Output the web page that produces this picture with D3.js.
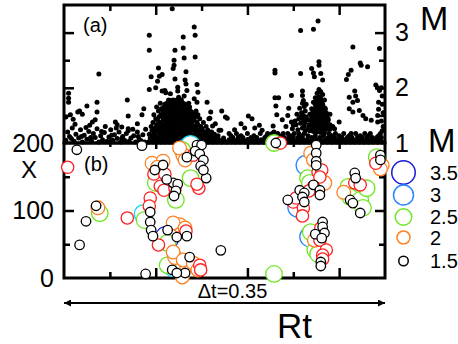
<!DOCTYPE html>
<html><head><meta charset="utf-8">
<script src="https://cdn.jsdelivr.net/npm/d3@7"></script>
<style>body{margin:0;background:#fff}svg text{font-family:Arial,"Liberation Sans",sans-serif;fill:#000}</style>
</head><body><svg id="c" width="458" height="344"></svg>
<script>
// ---------- data ----------
const timeDomain = [0, 3.5];
const magDomain = [1, 3.5];
const xDomain = [0, 200];
const timeMajorTicks = [1, 2, 3];
const timeMinorTicks = [0.5, 1.5, 2.5];
const magMajorTicks = [2, 3];
const magMinorTicks = [1.5, 2.5];
const magTickLabels = [1, 2, 3];
const xMajorTicks = [100];
const xMinorTicks = [50, 150];
const xTickLabels = [0, 100, 200];
const legendMags = [3.5, 3, 2.5, 2, 1.5];
const legendLabels = ["3.5", "3", "2.5", "2", "1.5"];
const magBins = [1.75, 2, 2.5, 2.75, 3, 3.5];
const magColors = ["#000000", "#ff2020", "#ff8022", "#6ee61e", "#10d8f0", "#2a86ff", "#1818dc"];

// panel (a): scattered events [time, M]
const aEvents = [
 [0.38,2.25],[0.05,1.90],[0.05,1.81],[0.05,1.74],[0.36,1.74],[0.36,1.56],[0.25,1.67],[0.69,1.78],[0.70,1.49],[0.87,1.62],[0.15,1.56],[0.07,1.51],[0.10,1.43],[0.20,1.52],[0.02,1.47],[0.31,1.38],[0.34,1.42],[0.56,1.38],[0.58,1.33],[0.63,1.29],[0.70,1.26],[0.80,1.35],[0.85,1.51],[0.17,1.58],
 [0.02,1.05],[0.04,1.2],[0.06,1.12],[0.09,1.27],[0.11,1.03],[0.13,1.16],[0.16,1.09],[0.18,1.24],[0.2,1.02],[0.22,1.14],[0.25,1.07],[0.27,1.21],[0.3,1.04],[0.32,1.17],[0.34,1.1],[0.36,1.26],[0.38,1.02],[0.4,1.13],[0.42,1.06],[0.44,1.19],[0.47,1.03],[0.49,1.11],[0.51,1.24],[0.53,1.05],[0.55,1.15],[0.58,1.08],[0.6,1.2],[0.62,1.02],[0.64,1.12],[0.66,1.05],[0.68,1.17],[0.71,1.03],[0.73,1.09],[0.76,1.13],[0.78,1.02],[0.8,1.2],[0.82,1.07],[0.84,1.04],[0.86,1.15],[0.88,1.02],[0.28,1.32],[0.45,1.3],[0.12,1.34],[0.57,1.27],[0.75,1.25],[0.24,1.28],
 [0.08,1.08],[0.19,1.12],[0.29,1.1],[0.41,1.21],[0.52,1.14],[0.63,1.08],[0.7,1.22],[0.81,1.12],[0.89,1.25],
 [1.18,3.43],[0.93,2.95],[0.93,2.68],[1.42,3.10],[1.43,2.95],[1.30,2.92],[1.30,2.72],[1.21,2.68],[1.43,2.56],[1.31,2.54],[1.20,2.50],[1.20,2.41],[1.03,2.36],[1.19,2.35],[1.33,2.29],[0.95,2.20],[1.04,2.21],[1.07,2.24],[1.21,2.16],[1.32,2.14],[1.33,2.07],[1.02,2.12],[1.00,2.00],[0.93,1.97],[1.10,1.95],[1.11,1.91],[1.07,1.94],[1.24,2.01],[1.24,1.94],[1.34,1.95],[1.45,2.06],[1.46,1.92],[1.16,1.89],[1.16,1.77],[1.25,1.83],[1.31,1.85],[1.42,1.80],[1.45,1.74],[1.56,1.74],[1.72,1.58],[1.59,1.45],[1.76,1.47],[1.62,1.31],[1.60,1.56],[1.58,1.44],[1.65,1.35],[1.71,1.23],
 [2.58,3.04],[2.72,3.06],[2.30,2.32],[2.30,2.27],[2.58,2.26],[2.30,1.82],[2.34,1.82],[2.48,1.86],[2.60,1.94],[2.60,1.86],[2.61,1.77],[2.31,1.67],[2.45,1.63],[1.78,1.45],[2.01,1.49],[2.05,1.44],[2.32,1.51],[2.44,1.50],[2.13,1.32],[2.16,1.23],[1.86,1.24],[1.97,1.27],[2.38,1.42],[2.42,1.30],[2.48,1.38],[2.49,1.26],[2.28,1.31],[2.29,1.20],[2.22,1.17],[2.08,1.27],[1.93,1.35],
 [2.55,1.24],[2.6,1.27],[2.63,1.22],[2.53,1.33],[2.58,1.36],[2.62,1.31],[2.56,1.44],[2.61,1.42],[2.64,1.47],[2.54,1.52],[2.59,1.55],[2.63,1.58],[2.57,1.63],[2.62,1.66],[2.6,1.72],[2.64,1.70],[2.52,1.4],[2.5,1.32],[2.61,1.5],[2.58,1.47],[2.63,1.38],
 [2.77,3.21],[3.15,2.74],[3.44,2.71],[3.23,2.45],[3.24,2.41],[3.31,2.38],[3.13,2.32],[3.10,2.24],[3.08,2.15],[2.78,2.47],[2.78,2.41],[2.70,2.35],[2.72,2.27],[2.73,2.20],[2.80,2.26],[2.82,2.14],[3.40,2.05],[3.42,2.00],[3.44,1.95],[3.46,2.00],[3.17,1.94],[3.18,1.85],[3.11,1.83],[3.15,1.74],[3.20,1.77],[3.43,1.74],[3.43,1.61],[3.11,1.62],[3.15,1.56],[3.22,1.59],[3.26,1.50],[3.29,1.44],[3.35,1.41],[3.00,1.38],[3.42,1.50],[3.42,1.38],[2.95,1.26],[3.47,1.85],[3.47,1.70],[3.48,1.55],[3.46,1.40],[3.48,1.30],[3.47,1.22],
 [2.78,1.97],[2.8,1.93],[2.76,1.9],[2.82,1.88],[2.78,1.84],[2.74,1.82],[2.8,1.8],[2.84,1.78],[2.77,1.76],[2.72,1.74],[2.81,1.72],[2.75,1.68],[2.79,1.66],[2.84,1.64],[2.7,1.62],[2.73,1.6],[2.77,1.58],[2.81,1.57],[2.86,1.55],[2.68,1.52],[2.72,1.5],[2.76,1.49],[2.8,1.48],[2.84,1.46],[2.88,1.44],[2.66,1.42],[2.7,1.4],[2.74,1.39],[2.78,1.38],[2.82,1.37],[2.86,1.35],[2.9,1.33],[2.67,1.32],[2.71,1.3],[2.75,1.29],[2.79,1.28],[2.83,1.27],[2.87,1.26],[2.68,1.22],[2.72,1.21],[2.76,1.2],[2.8,1.19],[2.84,1.18],[2.89,1.17],[2.93,1.3],[2.9,1.52]
];
// panel (a): dense swarm rows [M, [times]]
const aDenseRows = [
 [1.02,[0.92,0.97,1.01,1.06,1.1,1.15,1.19,1.24,1.28,1.33,1.37,1.42,1.47,1.52,1.57,1.62,1.67,1.72,1.77,1.82,1.87,1.92,1.97,2.02,2.07,2.12,2.17,2.22,2.27,2.32,2.37,2.42,2.47,2.52,2.57,2.62,2.67,2.72,2.77,2.82,2.87,2.92,2.97,3.02,3.07,3.12,3.17,3.22,3.27,3.32,3.37,3.42,3.47]],
 [1.06,[0.95,0.99,1.04,1.08,1.13,1.17,1.21,1.26,1.3,1.35,1.39,1.44,1.49,1.54,1.59,1.64,1.69,1.74,1.8,1.85,1.9,1.95,2.0,2.05,2.1,2.15,2.2,2.25,2.3,2.35,2.4,2.45,2.5,2.55,2.6,2.65,2.7,2.75,2.8,2.85,2.9,2.95,3.0,3.05,3.1,3.15,3.2,3.25,3.3,3.35,3.4,3.45]],
 [1.09,[0.94,0.99,1.03,1.08,1.13,1.17,1.22,1.26,1.31,1.35,1.4,1.45,1.5,1.55,1.6,1.66,1.74]],
 [1.10,[1.84,1.9,1.95,2.04,2.1,2.19,2.25,2.3,2.35,2.4,2.45,2.5,2.55,2.6,2.7,2.79,2.88,2.95,3.03,3.09,3.14,3.2,3.25,3.3,3.36,3.41,3.46]],
 [1.13,[0.96,1.0,1.06,1.11,1.16,1.2,1.25,1.29,1.34,1.39,1.44,1.5,1.56,1.62,1.68,1.82,1.93,2.07,2.21,2.37,2.47,2.58,2.66,2.74,2.83,2.92,3.0,3.11,3.23,3.32,3.43]],
 [1.16,[0.93,0.98,1.05,1.1,1.14,1.19,1.23,1.28,1.33,1.38,1.43,1.48,1.53,1.58,1.64]],
 [1.17,[1.8,1.88,2.0,2.14,2.27,2.33,2.39,2.44,2.51,2.56,2.62,2.96,3.05,3.13,3.18,3.28,3.34,3.45]],
 [1.20,[0.98,1.03,1.09,1.15,1.19,1.23,1.27,1.32,1.37,1.43,1.48,1.54,1.61]],
 [1.23,[0.96,1.01,1.07,1.12,1.17,1.21,1.25,1.3,1.35,1.4,1.46,1.51,1.57,1.69]],
 [1.25,[2.66,2.7,2.74,2.78,2.82,2.86,2.9]],
 [1.27,[0.99,1.05,1.11,1.16,1.2,1.24,1.29,1.34,1.39,1.44,1.5]],
 [1.30,[0.95,1.03,1.09,1.14,1.18,1.22,1.27,1.32,1.37,1.42,1.49,1.55]],
 [1.33,[1.01,1.07,1.12,1.16,1.21,1.25,1.3,1.35,1.4,1.46,2.68,2.72,2.76,2.8,2.84,2.88]],
 [1.37,[0.97,1.05,1.11,1.16,1.2,1.24,1.29,1.34,1.39,1.45,1.52]],
 [1.41,[1.02,1.09,1.14,1.19,1.23,1.27,1.32,1.37,1.42,2.68,2.72,2.76,2.8,2.84,2.88]],
 [1.44,[1.0,1.08,1.13,1.18,1.22,1.27,1.31,1.36,1.41,1.48]],
 [1.48,[1.04,1.1,1.15,1.2,1.24,1.29,1.33,1.38,1.44,2.7,2.74,2.78,2.82,2.86]],
 [1.51,[0.98,1.06,1.12,1.17,1.21,1.25,1.3,1.35,1.4,1.46]],
 [1.55,[1.08,1.13,1.18,1.22,1.26,1.31,1.36,1.42,2.71,2.75,2.79,2.83]],
 [1.58,[1.03,1.1,1.15,1.2,1.23,1.28,1.33,1.38,1.44]],
 [1.62,[1.06,1.12,1.17,1.21,1.25,1.3,1.35,2.73,2.77,2.81,2.85]],
 [1.65,[1.01,1.09,1.14,1.19,1.22,1.27,1.32,1.37]],
 [1.70,[1.1,1.16,1.2,1.24,1.29,1.33,2.74,2.78,2.82]],
 [1.72,[1.05,1.12,1.18,1.21,1.26,1.3,1.36]],
 [1.78,[1.14,1.19,1.23,1.28,2.76,2.8]]
];
// panel (b): events [time, X, M]
const bEvents = [
 [0.14,190,1.5],[0.04,164,1.9],[0.24,84,1.5],[0.17,49,1.5],[0.35,107,1.5],[0.37,104,2.1],[0.39,96,2.5],[0.69,89,1.9],[0.85,196,1.5],[0.89,6,1.5],[1.71,41,1.5],[2.29,6,2.5],
 [0.94,118.5,1.9],[0.93,106.7,1.9],[0.87,94.8,2.85],[0.88,86,2.55],[0.94,97.8,1.5],[0.94,83,1.5],[0.95,71,1.5],[0.97,62,1.5],
 [0.96,170,2.1],[1.08,173,2.1],[0.99,160,1.5],[1.08,167.4,1.5],[0.98,154,1.9],[1.10,154,1.9],[1.0,141,2.5],[1.05,136,1.9],[1.09,130,1.9],[1.19,141,1.5],[1.21,133,1.9],[1.24,139,1.5],[1.22,129,1.5],[1.22,115.6,2.5],[1.2,121.5,1.5],[1.02,164,2.1],[1.12,146,1.5],
 [1.26,192.6,2.1],[1.29,189.6,2.5],[1.30,182,2.2],[1.38,197,2.85],[1.35,192.6,3.0],[1.45,197,1.5],[1.50,197,1.5],[1.41,182,1.9],[1.43,188,1.5],[1.48,183.7,1.5],[1.52,174.8,1.5],[1.49,166,1.5],[1.32,174.8,2.1],[1.34,179,1.5],[1.38,148,2.5],[1.47,133,1.9],[1.45,139,1.9],[1.55,148,1.5],[1.52,160,1.5],
 [1.03,49,1.9],[1.12,59,3.5],[1.13,71,1.5],[1.13,52,2.5],[1.19,81.5,2.1],[1.26,78.5,2.2],[1.32,74,2.1],[1.33,69.6,1.9],[1.23,60.7,1.5],[1.34,62,1.5],[1.19,38.5,2.1],[1.21,31,2.2],[1.37,31,1.5],[1.30,26.7,2.1],[1.34,19,2.2],[1.41,22,2.1],[1.48,19,1.9],[1.49,12,1.9],[1.13,19,2.5],[1.19,16,2.85],[1.18,12,1.5],[1.32,7.4,1.5],[1.23,7.4,1.5],[1.29,1.5,2.1],[1.46,12,2.1],
 [2.29,200,2.5],[2.31,200,1.5],[2.36,200,1.9],
 [2.75,197,1.5],[2.69,185,2.1],[2.72,175,2.1],[2.75,185,1.5],[2.75,173,1.5],[2.64,167,3.0],[2.75,167,1.5],[2.77,157,1.9],[2.81,160,1.9],[2.79,149.6,1.9],[2.66,148,2.5],[2.68,141,2.5],[2.84,141,2.2],[2.72,135,1.9],[2.67,129,1.9],[2.72,138,1.5],[2.79,130,1.5],[2.79,123,1.5],
 [2.57,130,1.5],[2.62,126,1.5],[2.60,120,1.5],[2.44,115.6,1.5],[2.50,112.6,1.9],[2.53,118.5,1.9],[2.55,105,3.0],[2.61,103.7,1.9],[2.60,92,1.9],[2.62,112.6,1.5],
 [2.82,83,1.5],[2.82,75.6,1.5],[2.84,66.7,1.5],[2.80,74,1.9],[2.68,61,3.0],[2.69,68,2.5],[2.73,56,2.1],[2.74,65,1.5],[2.79,56,1.9],[2.81,59,1.5],[2.74,41.5,2.5],[2.77,35.5,2.5],[2.86,41.5,1.9],[2.82,34,1.9],[2.82,28,1.9],[2.80,23.7,1.5],[2.80,17.8,1.5],
 [3.17,155.6,1.5],[3.18,148,1.5],[3.17,141,1.9],[3.23,138,1.9],[3.05,127,2.1],[3.10,135,2.5],[3.12,120,2.5],[3.12,115.6,1.5],[3.15,111,1.5],[3.23,115.6,2.5],[3.26,104,2.5],[3.30,133,2.5],[3.23,96.3,1.5],
 [3.41,179,2.5],[3.45,182,1.5],[3.45,175,1.5],[3.40,170,1.9],[3.47,167,2.1],[3.45,161.5,2.1]
];

// ---------- drawing ----------
const svg = d3.select("#c");
const L = 64, R = 385, TA = 5, MID = 143, BB = 278;
const x = d3.scaleLinear().domain(timeDomain).range([L, R]);
const yA = d3.scaleLinear().domain(magDomain).range([MID, TA]);
const yB = d3.scaleLinear().domain(xDomain).range([BB, MID]);
const rad = d3.scaleLinear().domain([1.5, 3.5]).range([4.75, 11.75]);
const col = d3.scaleThreshold().domain(magBins).range(magColors);

function ticks(axisFn, scale, vals, len, tx, ty) {
  const g = svg.append("g").attr("transform", `translate(${tx},${ty})`)
    .call(axisFn(scale).tickValues(vals).tickSize(len).tickFormat(""));
  g.select(".domain").remove();
  g.selectAll("line").attr("stroke", "#000").attr("stroke-width", 2.5);
}
// panel (a) ticks
ticks(d3.axisRight, yA, magMajorTicks, 10, L, 0);
ticks(d3.axisRight, yA, magMinorTicks, 6, L, 0);
ticks(d3.axisLeft, yA, magMajorTicks, 10, R, 0);
ticks(d3.axisLeft, yA, magMinorTicks, 6, R, 0);
ticks(d3.axisBottom, x, timeMajorTicks, 10, 0, TA);
ticks(d3.axisBottom, x, timeMinorTicks, 6, 0, TA);
ticks(d3.axisTop, x, timeMajorTicks, 6, 0, MID);
ticks(d3.axisTop, x, timeMinorTicks, 4, 0, MID);
// panel (b) ticks
ticks(d3.axisRight, yB, xMajorTicks, 10, L, 0);
ticks(d3.axisRight, yB, xMinorTicks, 6, L, 0);
ticks(d3.axisLeft, yB, xMajorTicks, 10, R, 0);
ticks(d3.axisLeft, yB, xMinorTicks, 6, R, 0);
ticks(d3.axisBottom, x, timeMajorTicks, 6, 0, MID);
ticks(d3.axisBottom, x, timeMinorTicks, 4, 0, MID);
ticks(d3.axisTop, x, timeMajorTicks, 10, 0, BB);
ticks(d3.axisTop, x, timeMinorTicks, 6, 0, BB);

// panel (a) dots
const aAll = aEvents.concat(aDenseRows.flatMap(([m, ts]) => ts.map(t => [t, m])));
svg.append("g").selectAll("circle").data(aAll).join("circle")
  .attr("cx", d => x(d[0])).attr("cy", d => yA(d[1])).attr("r", 2.5).attr("fill", "#000");

// frames
svg.append("rect").attr("x", L).attr("y", TA).attr("width", R - L).attr("height", MID - TA)
  .attr("fill", "none").attr("stroke", "#000").attr("stroke-width", 3);
svg.append("rect").attr("x", L).attr("y", MID).attr("width", R - L).attr("height", BB - MID)
  .attr("fill", "none").attr("stroke", "#000").attr("stroke-width", 3);

// panel (b) circles
const bSorted = d3.sort(bEvents, (a, b) => b[2] - a[2]);
svg.append("g").selectAll("circle").data(bSorted).join("circle")
  .attr("cx", d => x(d[0])).attr("cy", d => yB(d[1])).attr("r", d => rad(d[2]))
  .attr("fill", "#fff").attr("stroke", d => col(d[2])).attr("stroke-width", 1.3);

// tick labels
function labels(axisFn, scale, vals, pad, tx, size) {
  const g = svg.append("g").attr("transform", `translate(${tx},0)`)
    .call(axisFn(scale).tickValues(vals).tickSize(0).tickPadding(pad).tickFormat(d3.format("d")));
  g.select(".domain").remove();
  g.selectAll("text").attr("font-size", size).attr("font-family", "Arial, Liberation Sans, sans-serif").attr("fill", "#000");
}
labels(d3.axisRight, yA, magTickLabels, 10, R, 25);
labels(d3.axisLeft, yB, xTickLabels, 10, L, 25);

// titles
svg.append("text").attr("x", 420).attr("y", 30).attr("font-size", 34).text("M");
svg.append("text").attr("x", 428).attr("y", 152).attr("font-size", 33).text("M");
svg.append("text").attr("x", 21).attr("y", 178).attr("font-size", 24).text("X");
svg.append("text").attr("x", 83).attr("y", 32).attr("font-size", 20).text("(a)");
svg.append("text").attr("x", 84).attr("y", 171).attr("font-size", 20).text("(b)");

// legend
const lg = svg.append("g");
const legendYs = [172.5, 195, 217, 237.5, 261];
legendMags.forEach((m, i) => {
  const yy = legendYs[i];
  lg.append("circle").attr("cx", 403.5).attr("cy", yy).attr("r", rad(m))
    .attr("fill", "#fff").attr("stroke", col(m)).attr("stroke-width", 1.5);
  lg.append("text").attr("x", 430).attr("y", yy).attr("dy", "0.36em").attr("font-size", 20).text(legendLabels[i]);
});

// time-window arrow
const defs = svg.append("defs");
defs.append("marker").attr("id", "ah").attr("viewBox", "0 0 10 10").attr("refX", 10).attr("refY", 5)
  .attr("markerWidth", 14).attr("markerHeight", 7).attr("markerUnits", "userSpaceOnUse").attr("orient", "auto-start-reverse")
  .append("path").attr("d", "M0,0L10,5L0,10z").attr("fill", "#000");
svg.append("line").attr("x1", x(timeDomain[0])).attr("x2", x(timeDomain[1])).attr("y1", 303).attr("y2", 303)
  .attr("stroke", "#000").attr("stroke-width", 2).attr("marker-start", "url(#ah)").attr("marker-end", "url(#ah)");
svg.append("text").attr("x", 232.5).attr("y", 298).attr("text-anchor", "middle").attr("font-size", 20).text("\u0394t=0.35");
svg.append("text").attr("x", 277).attr("y", 338).attr("font-size", 35).text("Rt");
</script></body></html>
